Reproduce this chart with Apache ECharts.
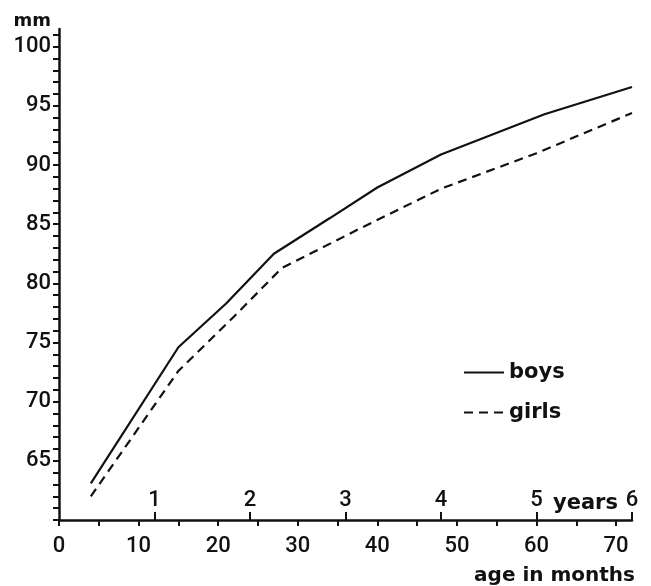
<!DOCTYPE html>
<html lang="en">
<head>
  <meta charset="UTF-8">
  <title>boys and girls</title>
  <script src="https://cdn.jsdelivr.net/npm/echarts@6/dist/echarts.min.js"></script>
  <style>
    html, body { margin: 0; padding: 0; background: #fff; }
    #main { width: 651px; height: 586px; }
  </style>
</head>
<body>
  <div id="main"></div>
<script type="text/javascript">
  // months / mm
  var boysData = [[4, 63.1], [15, 74.6], [21, 78.3], [27, 82.5], [34, 85.5], [40, 88.1], [48, 90.9], [61, 94.3], [72, 96.6]];
  var girlsData = [[4, 62.0], [15, 72.6], [22, 77.2], [28, 81.3], [38, 84.7], [48, 88.0], [60, 91.0], [72, 94.4]];

  var yTicks = [];
  for (var i = 60; i <= 101; i++) yTicks.push(i);
  var yLabels = [65, 70, 75, 80, 85, 90, 95, 100];
  var monthTicks = [0, 5, 10, 15, 20, 25, 30, 35, 40, 45, 50, 55, 60, 65, 70];
  var monthLabels = [0, 10, 20, 30, 40, 50, 60, 70];
  var yearTicks = [12, 24, 36, 48, 60, 72];

  var numFont = 'Roboto';
  var wordFont = 'DejaVu Sans';
  var ink = '#111';
  var num = { fontFamily: numFont, fontWeight: 500, fontSize: 22, color: ink };

  var chart = echarts.init(document.getElementById('main'));
  chart.setOption({
    backgroundColor: '#fff',
    animation: false,
    grid: { left: 59, right: 19, top: 29, bottom: 66 },
    legend: {
      orient: 'vertical',
      left: 458,
      top: 357,
      itemWidth: 40,
      itemHeight: 14,
      itemGap: 19,
      itemStyle: { opacity: 0 },
      textStyle: { fontFamily: wordFont, fontWeight: 'bold', fontSize: 21, color: ink },
      data: ['boys', 'girls']
    },
    xAxis: [{
      type: 'value',
      min: 0, max: 72,
      name: 'age in months',
      nameLocation: 'end',
      nameGap: 3,
      nameTextStyle: { fontFamily: wordFont, fontWeight: 'bold', fontSize: 20, color: ink,
        align: 'right', verticalAlign: 'top', padding: [46, 0, 0, 0] },
      splitLine: { show: false },
      axisLine: { lineStyle: { color: ink, width: 2.5 } },
      axisTick: { length: 6, lineStyle: { color: ink, width: 2 }, customValues: monthTicks },
      axisLabel: Object.assign({ customValues: monthLabels, margin: 15 }, num)
    }, {
      type: 'value',
      position: 'bottom',
      min: 0, max: 72,
      splitLine: { show: false },
      axisLine: { show: false },
      axisTick: { inside: true, length: 8, lineStyle: { color: ink, width: 2 }, customValues: yearTicks },
      axisLabel: Object.assign({ inside: true, margin: 9, customValues: yearTicks,
        formatter: function (v) { return String(v / 12); } }, num)
    }],
    yAxis: {
      type: 'value',
      min: 60, max: 101.5,
      name: 'mm',
      nameLocation: 'end',
      nameGap: -1,
      nameTextStyle: { fontFamily: wordFont, fontWeight: 'bold', fontSize: 18, color: ink,
        align: 'right', padding: [0, 8, 0, 0] },
      splitLine: { show: false },
      axisLine: { show: true, lineStyle: { color: ink, width: 2.5 } },
      axisTick: { show: true, length: 6, lineStyle: { color: ink, width: 2 }, customValues: yTicks },
      axisLabel: Object.assign({ customValues: yLabels, margin: 8 }, num)
    },
    graphic: [{
      type: 'text',
      left: 553,
      top: 493,
      style: { text: 'years', fontFamily: wordFont, fontWeight: 'bold', fontSize: 21, fill: ink }
    }],
    series: [{
      name: 'boys',
      type: 'line',
      data: boysData,
      symbol: 'none',
      color: ink,
      lineStyle: { color: ink, width: 2.2 }
    }, {
      name: 'girls',
      type: 'line',
      data: girlsData,
      symbol: 'none',
      color: ink,
      lineStyle: { color: ink, width: 2.2, type: [9, 6] }
    }]
  });
</script>
</body>
</html>
